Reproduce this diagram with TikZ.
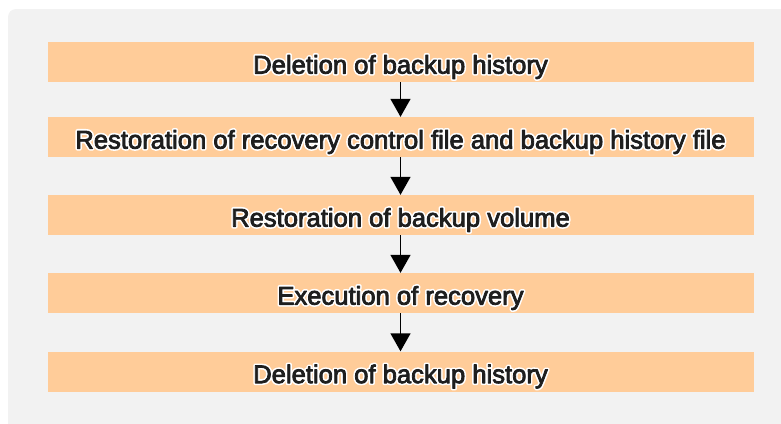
\documentclass[tikz,border=0pt]{standalone}
\usepackage{fontspec}
\setmainfont{Liberation Sans}
\usetikzlibrary{arrows.meta}
\definecolor{bggray}{HTML}{F2F2F2}
\definecolor{boxorange}{HTML}{FFCC99}
\definecolor{txt}{HTML}{1E1E1E}
\newcommand\halotext[1]{\raisebox{-5pt}[\height][\depth]{%
  \makebox[0pt][l]{\color{white}\special{pdf:literal direct 1 Tr 4 w 1 j 1 J}#1\special{pdf:literal direct 0 Tr}}%
  {\special{pdf:literal direct 2 Tr 0.8 w 1 j}#1\special{pdf:literal direct 0 Tr}}}}
\tikzset{
  stepbox/.style={fill=boxorange, draw=none, minimum width=706pt, minimum height=40pt, inner sep=0pt,
    font=\fontsize{25.6}{30}\selectfont, text=txt},
  flowarrow/.style={line width=1.4pt, -{Triangle[width=20pt,length=18pt]}, draw=black}
}
\begin{document}
\begin{tikzpicture}[x=1pt,y=-1pt]
\useasboundingbox (0,0) rectangle (781,423);
\fill[bggray, rounded corners=8pt] (8,9) rectangle (800,440);
\node[stepbox] (b1) at (400.5,62) {\halotext{Deletion of backup history}};
\node[stepbox] (b2) at (400.5,137) {\halotext{Restoration of recovery control file and backup history file}};
\node[stepbox] (b3) at (400.5,215) {\halotext{Restoration of backup volume}};
\node[stepbox] (b4) at (400.5,293) {\halotext{Execution of recovery}};
\node[stepbox] (b5) at (400.5,371.5) {\halotext{Deletion of backup history}};
\draw[flowarrow] (b1.south) -- (b2.north);
\draw[flowarrow] (b2.south) -- (b3.north);
\draw[flowarrow] (b3.south) -- (b4.north);
\draw[flowarrow] (b4.south) -- (b5.north);
\end{tikzpicture}
\end{document}
